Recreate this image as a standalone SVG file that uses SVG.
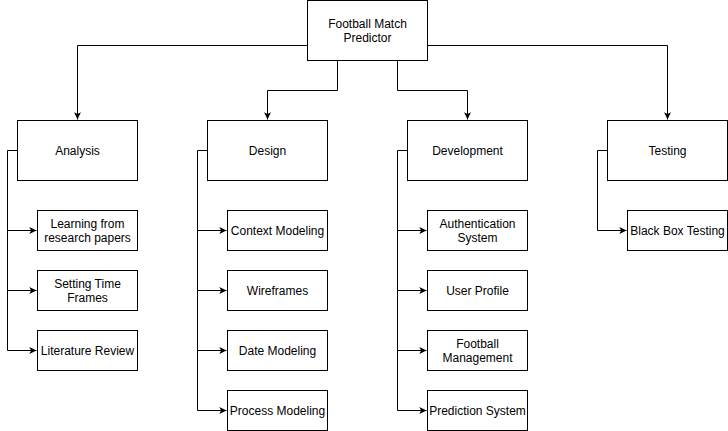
<svg xmlns="http://www.w3.org/2000/svg" width="728" height="431" viewBox="0 0 728 431">
<style>
.box{fill:#fff;stroke:#000;stroke-width:1}
.t{font-family:"Liberation Sans",Arial,sans-serif;font-size:12px;fill:#000;text-anchor:middle;dominant-baseline:central}
.c{fill:none;stroke:#000;stroke-width:1}
</style>
<defs>
<marker id="arr" viewBox="0 0 10 10" refX="9" refY="5" markerWidth="9" markerHeight="9" markerUnits="userSpaceOnUse" orient="auto">
<path d="M1,1.2 L9,5 L1,8.8 L3,5 z" fill="#000"/>
</marker>
</defs>
<rect width="728" height="431" fill="#fff"/>
<g id="connectors">
<path class="c" d="M307.5,45.5 H77.5 V119.5" marker-end="url(#arr)"/>
<path class="c" d="M427.5,45.5 H667.5 V119.5" marker-end="url(#arr)"/>
<path class="c" d="M337.5,60.5 V90.5 H267.5 V119.5" marker-end="url(#arr)"/>
<path class="c" d="M397.5,60.5 V90.5 H467.5 V119.5" marker-end="url(#arr)"/>
<path class="c" d="M17.5,150.5 H7.5 V230.5 H36.5" marker-end="url(#arr)"/>
<path class="c" d="M7.5,230.5 V290.5 H36.5" marker-end="url(#arr)"/>
<path class="c" d="M7.5,290.5 V350.5 H36.5" marker-end="url(#arr)"/>
<path class="c" d="M207.5,150.5 H197.5 V230.5 H226.5" marker-end="url(#arr)"/>
<path class="c" d="M197.5,230.5 V290.5 H226.5" marker-end="url(#arr)"/>
<path class="c" d="M197.5,290.5 V350.5 H226.5" marker-end="url(#arr)"/>
<path class="c" d="M197.5,350.5 V410.5 H226.5" marker-end="url(#arr)"/>
<path class="c" d="M407.5,150.5 H397.5 V230.5 H426.5" marker-end="url(#arr)"/>
<path class="c" d="M397.5,230.5 V290.5 H426.5" marker-end="url(#arr)"/>
<path class="c" d="M397.5,290.5 V350.5 H426.5" marker-end="url(#arr)"/>
<path class="c" d="M397.5,350.5 V410.5 H426.5" marker-end="url(#arr)"/>
<path class="c" d="M607.5,150.5 H597.5 V230.5 H626.5" marker-end="url(#arr)"/>
</g>
<g id="root"><rect class="box" x="307.5" y="0.5" width="120" height="60"/><text class="t" x="367.5" y="23.5">Football Match</text><text class="t" x="367.5" y="37.5">Predictor</text></g>
<g id="analysis"><rect class="box" x="17.5" y="120.5" width="120" height="60"/><text class="t" x="77.5" y="150.5">Analysis</text></g>
<g id="design"><rect class="box" x="207.5" y="120.5" width="120" height="60"/><text class="t" x="267.5" y="150.5">Design</text></g>
<g id="development"><rect class="box" x="407.5" y="120.5" width="120" height="60"/><text class="t" x="467.5" y="150.5">Development</text></g>
<g id="testing"><rect class="box" x="607.5" y="120.5" width="120" height="60"/><text class="t" x="667.5" y="150.5">Testing</text></g>
<g id="learning"><rect class="box" x="37.5" y="210.5" width="100" height="40"/><text class="t" x="87.5" y="223.5">Learning from</text><text class="t" x="87.5" y="237.5">research papers</text></g>
<g id="timeframes"><rect class="box" x="37.5" y="270.5" width="100" height="40"/><text class="t" x="87.5" y="283.5">Setting Time</text><text class="t" x="87.5" y="297.5">Frames</text></g>
<g id="literature"><rect class="box" x="37.5" y="330.5" width="100" height="40"/><text class="t" x="87.5" y="350.5">Literature Review</text></g>
<g id="context"><rect class="box" x="227.5" y="210.5" width="100" height="40"/><text class="t" x="277.5" y="230.5">Context Modeling</text></g>
<g id="wireframes"><rect class="box" x="227.5" y="270.5" width="100" height="40"/><text class="t" x="277.5" y="290.5">Wireframes</text></g>
<g id="datemodeling"><rect class="box" x="227.5" y="330.5" width="100" height="40"/><text class="t" x="277.5" y="350.5">Date Modeling</text></g>
<g id="process"><rect class="box" x="227.5" y="390.5" width="100" height="40"/><text class="t" x="277.5" y="410.5">Process Modeling</text></g>
<g id="auth"><rect class="box" x="427.5" y="210.5" width="100" height="40"/><text class="t" x="477.5" y="223.5">Authentication</text><text class="t" x="477.5" y="237.5">System</text></g>
<g id="profile"><rect class="box" x="427.5" y="270.5" width="100" height="40"/><text class="t" x="477.5" y="290.5">User Profile</text></g>
<g id="football"><rect class="box" x="427.5" y="330.5" width="100" height="40"/><text class="t" x="477.5" y="343.5">Football</text><text class="t" x="477.5" y="357.5">Management</text></g>
<g id="prediction"><rect class="box" x="427.5" y="390.5" width="100" height="40"/><text class="t" x="477.5" y="410.5">Prediction System</text></g>
<g id="blackbox"><rect class="box" x="627.5" y="210.5" width="100" height="40"/><text class="t" x="677.5" y="230.5">Black Box Testing</text></g>
</svg>
